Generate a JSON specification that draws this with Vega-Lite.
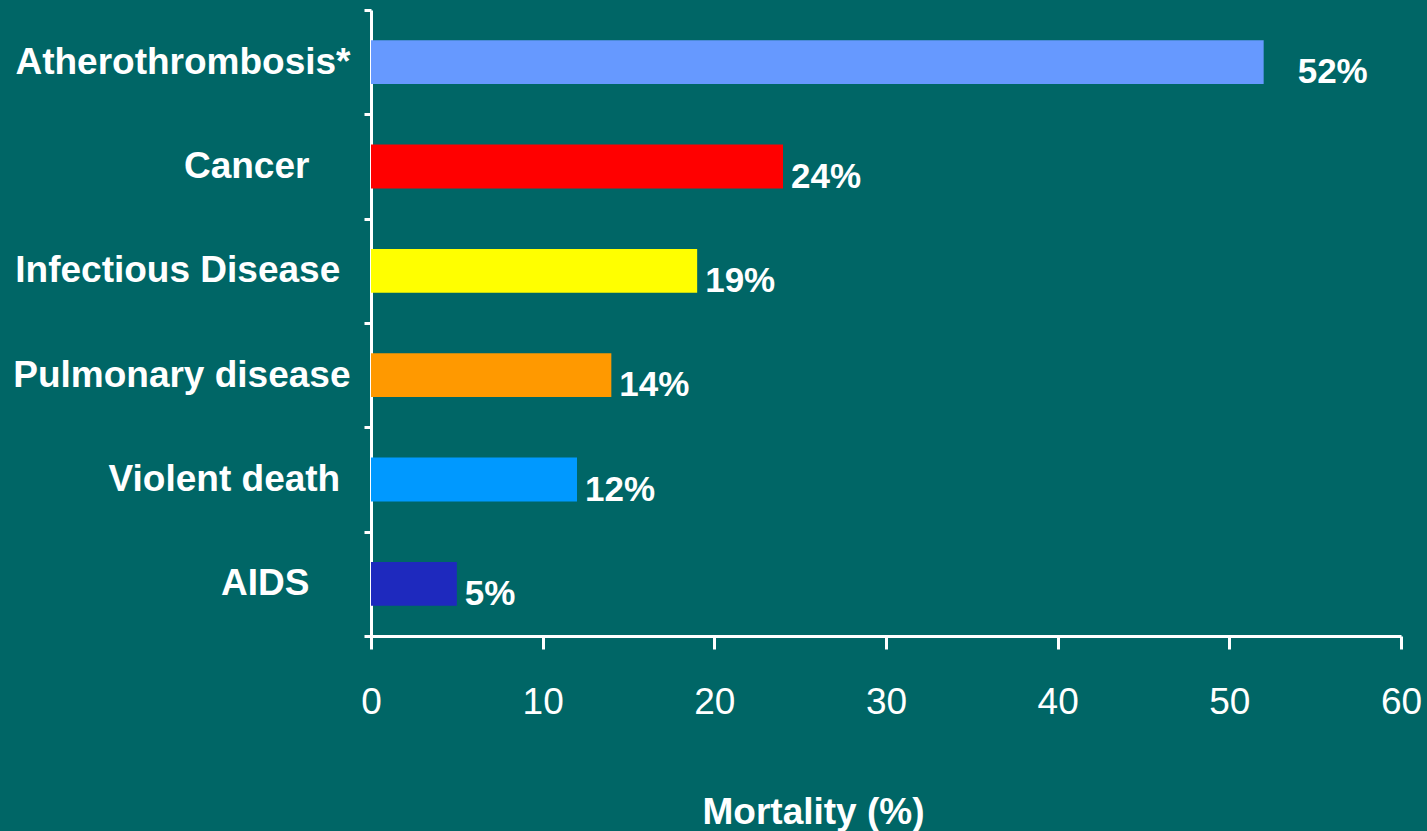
{
  "$schema": "https://vega.github.io/schema/vega-lite/v6.json",
  "autosize": {"type": "none"},
  "padding": {"left": 371, "top": 10, "right": 26, "bottom": 195},
  "width": 1030,
  "height": 626,
  "background": "#006666",
  "config": {
    "view": {"stroke": null},
    "font": "Liberation Sans",
    "text": {"font": "Liberation Sans"}
  },
  "data": {
    "values": [
      {"cause": "Atherothrombosis*", "mortality": 52, "label": "52%", "color": "#6699FF"},
      {"cause": "Cancer", "mortality": 24, "label": "24%", "color": "#FF0000"},
      {"cause": "Infectious Disease", "mortality": 19, "label": "19%", "color": "#FFFF00"},
      {"cause": "Pulmonary disease", "mortality": 14, "label": "14%", "color": "#FF9900"},
      {"cause": "Violent death", "mortality": 12, "label": "12%", "color": "#0099FF"},
      {"cause": "AIDS", "mortality": 5, "label": "5%", "color": "#1E29BE"}
    ]
  },
  "encoding": {
    "y": {
      "field": "cause",
      "type": "nominal",
      "sort": null,
      "scale": {"paddingInner": 0, "paddingOuter": 0},
      "axis": {
        "title": null,
        "tickBand": "extent",
        "domainColor": "white",
        "domainWidth": 3,
        "tickColor": "white",
        "tickWidth": 3,
        "tickSize": 7,
        "labelColor": "white",
        "labelFont": "Liberation Sans",
        "labelFontSize": 37,
        "labelFontWeight": "bold",
        "labelPadding": 14,
        "labelAlign": "right",
        "labelBaseline": "middle",
        "labelLimit": 0,
        "labelExpr": "datum.label === 'Cancer' || datum.label === 'AIDS' ? datum.label + '\u00a0\u00a0\u00a0\u00a0\u200b' : (datum.label === 'Infectious Disease' || datum.label === 'Violent death' ? datum.label + '\u00a0\u200b' : datum.label)"
      }
    }
  },
  "layer": [
    {
      "mark": {"type": "bar", "height": {"band": 0.42}},
      "encoding": {
        "x": {
          "field": "mortality",
          "type": "quantitative",
          "scale": {"domain": [0, 60], "nice": false},
          "axis": {
            "values": [0, 10, 20, 30, 40, 50, 60],
            "grid": false,
            "title": "Mortality (%)",
            "titleColor": "white",
            "titleFont": "Liberation Sans",
            "titleFontSize": 37,
            "titleFontWeight": "bold",
            "titleX": 442,
            "titleY": 187,
            "titleAnchor": "middle",
            "titleAlign": "center",
            "titleBaseline": "alphabetic",
            "domainColor": "white",
            "domainWidth": 3,
            "tickColor": "white",
            "tickWidth": 3,
            "tickSize": 13,
            "labelColor": "white",
            "labelFont": "Liberation Sans",
            "labelFontSize": 37,
            "labelPadding": 64,
            "labelBaseline": "alphabetic",
            "labelFlush": false
          }
        },
        "color": {"field": "color", "type": "nominal", "scale": null, "legend": null}
      }
    },
    {
      "transform": [{"filter": "datum.cause !== 'Atherothrombosis*'"}],
      "mark": {"type": "text", "align": "left", "baseline": "alphabetic", "dx": 8, "dy": 21, "fontSize": 35, "fontWeight": "bold", "color": "white", "font": "Liberation Sans"},
      "encoding": {
        "x": {"field": "mortality", "type": "quantitative"},
        "text": {"field": "label"}
      }
    },
    {
      "transform": [{"filter": "datum.cause === 'Atherothrombosis*'"}],
      "mark": {"type": "text", "align": "left", "baseline": "alphabetic", "dx": 34, "dy": 21, "fontSize": 35, "fontWeight": "bold", "color": "white", "font": "Liberation Sans"},
      "encoding": {
        "x": {"field": "mortality", "type": "quantitative"},
        "text": {"field": "label"}
      }
    }
  ]
}
